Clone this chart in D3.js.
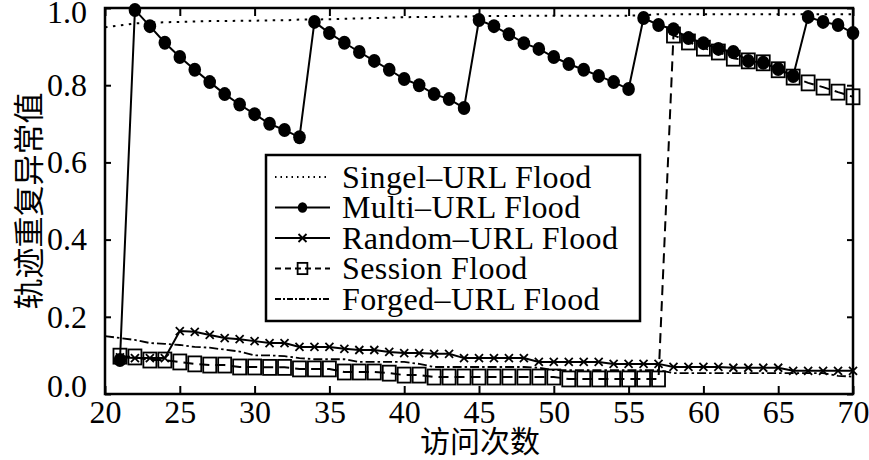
<!DOCTYPE html>
<html>
<head>
<meta charset="utf-8">
<script src="https://cdn.jsdelivr.net/npm/d3@7"></script>
<style>
	body { margin: 0; background: #fff; }
	text { fill: #000; }
</style>
</head>
<body>
<div id="container"></div>
<script>
// ==============
//	DATA
// ==============

var visits = [20, 21, 22, 23, 24, 25, 26, 27, 28, 29, 30, 31, 32, 33, 34, 35, 36, 37, 38, 39,
	40, 41, 42, 43, 44, 45, 46, 47, 48, 49, 50, 51, 52, 53, 54, 55, 56, 57, 58, 59,
	60, 61, 62, 63, 64, 65, 66, 67, 68, 69, 70];

var singleUrl = [0.950, 0.955, 0.960, 0.962, 0.963, 0.964, 0.965, 0.966, 0.966, 0.967, 0.967, 0.968, 0.968, 0.970, 0.970, 0.971, 0.972, 0.973, 0.974, 0.975,
	0.976, 0.977, 0.977, 0.978, 0.978, 0.979, 0.979, 0.979, 0.980, 0.980, 0.980, 0.980, 0.980, 0.980, 0.980, 0.980, 0.981, 0.984, 0.984, 0.984,
	0.984, 0.984, 0.984, 0.984, 0.984, 0.984, 0.984, 0.984, 0.984, 0.984, 0.984];

var multiUrl = [null, 0.088, 0.995, 0.953, 0.910, 0.873, 0.840, 0.808, 0.777, 0.750, 0.725, 0.700, 0.684, 0.665, 0.964, 0.935, 0.910, 0.886, 0.863, 0.840,
	0.816, 0.800, 0.777, 0.764, 0.741, 0.969, 0.953, 0.932, 0.909, 0.894, 0.873, 0.855, 0.840, 0.824, 0.808, 0.790, 0.974, 0.956, 0.945, 0.922,
	0.909, 0.894, 0.886, 0.863, 0.858, 0.842, 0.824, 0.977, 0.964, 0.956, 0.935];

var randomUrl = [null, 0.095, 0.093, 0.093, 0.093, 0.163, 0.161, 0.153, 0.145, 0.142, 0.137, 0.132, 0.132, 0.122, 0.122, 0.122, 0.117, 0.114, 0.114, 0.109,
	0.106, 0.106, 0.104, 0.104, 0.093, 0.093, 0.093, 0.093, 0.093, 0.083, 0.083, 0.083, 0.083, 0.083, 0.078, 0.078, 0.078, 0.078, 0.070, 0.070,
	0.070, 0.070, 0.068, 0.068, 0.068, 0.068, 0.060, 0.060, 0.060, 0.060, 0.060];

var session = [null, 0.098, 0.096, 0.088, 0.088, 0.083, 0.078, 0.075, 0.075, 0.070, 0.070, 0.069, 0.069, 0.065, 0.065, 0.065, 0.057, 0.057, 0.057, 0.054,
	0.049, 0.049, 0.044, 0.044, 0.044, 0.044, 0.044, 0.044, 0.044, 0.044, 0.044, 0.039, 0.039, 0.039, 0.039, 0.039, 0.039, 0.039, 0.930, 0.912,
	0.896, 0.886, 0.870, 0.863, 0.858, 0.840, 0.821, 0.806, 0.795, 0.782, 0.770];

var forgedUrl = [0.150, 0.145, 0.140, 0.132, 0.130, 0.127, 0.122, 0.120, 0.115, 0.110, 0.100, 0.100, 0.098, 0.093, 0.090, 0.090, 0.090, 0.083, 0.083, 0.083,
	0.083, 0.078, 0.070, 0.070, 0.070, 0.070, 0.070, 0.070, 0.070, 0.068, 0.062, 0.062, 0.062, 0.062, 0.062, 0.062, 0.062, 0.062, 0.054, 0.054,
	0.054, 0.054, 0.054, 0.054, 0.054, 0.054, 0.054, 0.054, 0.054, 0.047, 0.045];

var seriesNames = ["Singel\u2013URL Flood", "Multi\u2013URL Flood", "Random\u2013URL Flood", "Session Flood", "Forged\u2013URL Flood"];
var xTicks = [20, 25, 30, 35, 40, 45, 50, 55, 60, 65, 70];
var yTicks = [0, 0.2, 0.4, 0.6, 0.8, 1.0];

// ==============
//	OPTIONS
// ==============

var	margin = {top: 8, right: 16, bottom: 66, left: 105},
	width = 869 - margin.left - margin.right,
	height = 460 - margin.top - margin.bottom;

var serif = "'Liberation Serif', 'Times New Roman', serif",
	cjk = "'Noto Sans CJK SC', sans-serif";

var styles = [
	{dash: "2.5,5.5", legendDash: "1.5,4", width: 2, marker: "none"},
	{dash: null, legendDash: null, width: 2, marker: "circle"},
	{dash: null, legendDash: null, width: 2, marker: "cross"},
	{dash: "10,6", legendDash: "6,4", width: 2, marker: "square"},
	{dash: "9,3,2.5,3", legendDash: "6,2,2,2", width: 1.8, marker: "none"}
];

var seriesData = [singleUrl, multiUrl, randomUrl, session, forgedUrl];

// ==============
//	DRAW
// ==============

var x = d3.scaleLinear().domain([20, 70]).range([0, width]);
var y = d3.scaleLinear().domain([0, 1]).range([height, 0]);

var svg = d3.select("#container").append("svg")
	.attr("width", 869)
	.attr("height", 460)
		.append("g")
			.attr("transform", "translate(" + margin.left + "," + margin.top + ")");

// === axes (ticks inward on all sides)
function styleAxis(g) {
	g.select(".domain").remove();
	g.selectAll("line").attr("stroke", "#000").attr("stroke-width", 2);
	g.selectAll("text").style("font-family", serif).style("font-size", "32px");
}

svg.append("g")
	.attr("transform", "translate(0," + height + ")")
	.call(d3.axisBottom(x).tickValues(xTicks).tickFormat(d3.format("d")).tickSizeInner(-8).tickPadding(6))
	.call(styleAxis);

svg.append("g")
	.call(d3.axisTop(x).tickValues(xTicks).tickSizeInner(-8).tickFormat(""))
	.call(styleAxis);

svg.append("g")
	.call(d3.axisLeft(y).tickValues(yTicks).tickFormat(d3.format(".1f")).tickSizeInner(-6).tickPadding(18))
	.call(styleAxis)
	.selectAll("text")
		.attr("dy", d => d === 1 ? "0.45em" : d === 0 ? "0.08em" : "0.32em");

svg.append("g")
	.attr("transform", "translate(" + width + ",0)")
	.call(d3.axisRight(y).tickValues(yTicks).tickSizeInner(-6).tickFormat(""))
	.call(styleAxis);

svg.append("rect")
	.attr("width", width)
	.attr("height", height)
	.attr("fill", "none")
	.attr("stroke", "#000")
	.attr("stroke-width", 2.5);

// === lines (drawn back to front so the circles sit on top)
var line = d3.line()
	.defined(d => d.v != null)
	.x(d => x(d.x))
	.y(d => y(d.v));

var plot = svg.append("g");

[4, 3, 2, 0, 1].forEach(function(i) {
	var values = seriesData[i];
	var pts = visits.map((v, j) => ({x: v, v: values[j]}));
	plot.append("path")
		.datum(pts)
		.attr("d", line)
		.attr("fill", "none")
		.attr("stroke", "#000")
		.attr("stroke-width", styles[i].width)
		.attr("stroke-dasharray", styles[i].dash);

	var mk = plot.append("g")
		.selectAll("g")
			.data(pts.filter(d => d.v != null))
			.join("g")
			.attr("transform", d => "translate(" + x(d.x) + "," + y(d.v) + ")");
	drawMarker(mk, styles[i].marker);
});

// === legend
var legend = svg.append("g")
	.attr("transform", "translate(" + (266 - margin.left) + "," + (155 - margin.top) + ")");

legend.append("rect")
	.attr("width", 374)
	.attr("height", 166)
	.attr("fill", "#fff")
	.attr("stroke", "#000")
	.attr("stroke-width", 2.5);

var row = legend.selectAll("g.row")
	.data(seriesNames)
	.join("g")
	.attr("class", "row")
	.attr("transform", (d, i) => "translate(0," + (22 + i * 30.5) + ")");

row.append("line")
	.attr("x1", 9)
	.attr("x2", 64)
	.attr("stroke", "#000")
	.attr("stroke-width", (d, i) => styles[i].width)
	.attr("stroke-dasharray", (d, i) => styles[i].legendDash);

row.each(function(d, i) {
	var m = d3.select(this).append("g").attr("transform", "translate(36.5,0)");
	drawMarker(m, styles[i].marker, 0.75);
});

row.append("text")
	.attr("x", 76)
	.attr("dy", "0.34em")
	.style("font-family", serif)
	.style("font-size", "32px")
	.style("letter-spacing", "0.4px")
	.text(d => d);

// === axis titles
svg.append("text")
	.attr("x", width / 2 + 1)
	.attr("y", height + 58)
	.attr("text-anchor", "middle")
	.style("font-family", cjk)
	.style("font-size", "30px")
	.text("访问次数");

svg.append("text")
	.attr("transform", "translate(" + (-79) + "," + (193) + ") rotate(-90)")
	.attr("text-anchor", "middle")
	.attr("dominant-baseline", "central")
	.style("font-family", cjk)
	.style("font-size", "31px")
	.text("轨迹重复异常值");

// ==============
//	FUNCTIONS
// ==============

function drawMarker(sel, type, k) {
	k = k || 1;
	if (type === "circle") {
		sel.append("ellipse")
			.attr("rx", 6.3 * k)
			.attr("ry", 7 * k)
			.attr("fill", "#000");
	} else if (type === "square") {
		sel.append("rect")
			.attr("x", -6.5 * k)
			.attr("y", -7.5 * k)
			.attr("width", 13 * k)
			.attr("height", 15 * k)
			.attr("fill", "none")
			.attr("stroke", "#000")
			.attr("stroke-width", 1.8);
	} else if (type === "cross") {
		sel.append("path")
			.attr("d", "M-4,-4L4,4M-4,4L4,-4")
			.attr("stroke", "#000")
			.attr("stroke-width", 1.8);
	}
}
</script>
</body>
</html>
